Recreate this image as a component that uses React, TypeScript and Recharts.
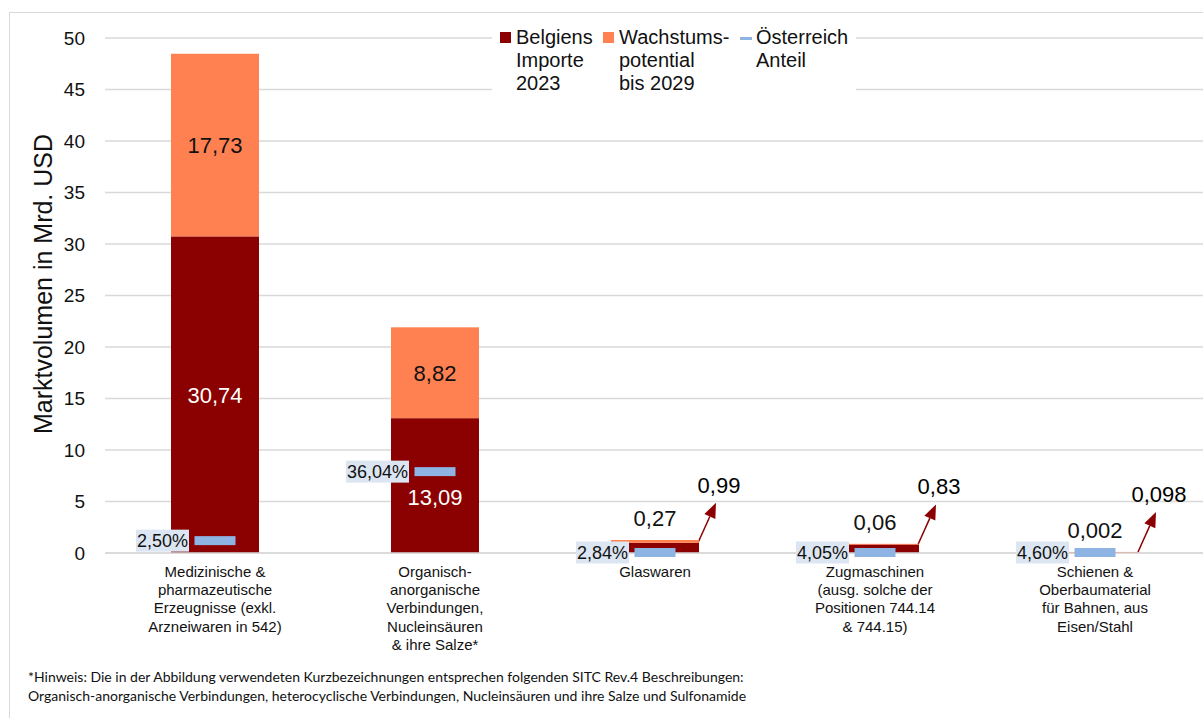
import React from "react"
import {
  ComposedChart,
  Bar,
  Line,
  XAxis,
  YAxis,
  CartesianGrid,
} from "recharts"

const categories = [
  ["Medizinische &", "pharmazeutische", "Erzeugnisse (exkl.", "Arzneiwaren in 542)"],
  ["Organisch-", "anorganische", "Verbindungen,", "Nucleinsäuren", "& ihre Salze*"],
  ["Glaswaren"],
  ["Zugmaschinen", "(ausg. solche der", "Positionen 744.14", "& 744.15)"],
  ["Schienen &", "Oberbaumaterial", "für Bahnen, aus", "Eisen/Stahl"],
]
const imports2023 = [30.74, 13.09, 0.99, 0.83, 0.098]
const growth2029 = [17.73, 8.82, 0.27, 0.06, 0.002]
const shareLevel = [1.2, 7.9, 0.05, 0.05, 0.05]
const shareLabels = ["2,50%", "36,04%", "2,84%", "4,05%", "4,60%"]
const yTicks = [0, 5, 10, 15, 20, 25, 30, 35, 40, 45, 50]

const DARK_RED = "#8B0000"
const ORANGE = "#FF8050"
const BLUE = "#8DB4E2"
const FONT = "'Liberation Sans', Arial, sans-serif"

const data = categories.map((lines, i) => ({
  name: lines.join(" "),
  lines,
  imp: imports2023[i],
  grow: growth2029[i],
  share: shareLevel[i],
  shareLabel: shareLabels[i],
}))

const fmt = (v: number) => String(v).replace(".", ",")

let ctx: CanvasRenderingContext2D | null = null
function textWidth(s: string, size: number) {
  if (!ctx) ctx = document.createElement("canvas").getContext("2d")
  if (!ctx) return s.length * size * 0.55
  ctx.font = `${size}px 'Liberation Sans', Arial, sans-serif`
  return ctx.measureText(s).width
}

function ImportShape(props: any) {
  const { x, y, width, height, payload } = props
  const v = payload.imp
  const big = v > 5
  let label = null
  if (big) {
    const pxPerUnit = height / v
    const markerY = y + height - payload.share * pxPerUnit
    let cy = y + height / 2
    // keep the value clear of the Austria marker
    if (Math.abs(markerY - cy) < 20) cy = markerY + 25
    label = (
      <text x={x + width / 2} y={cy} dy="0.36em" textAnchor="middle" fill="#fff" fontSize={22} fontFamily={FONT}>
        {fmt(v)}
      </text>
    )
  } else {
    const x1 = x + width - 1
    const y1 = y
    const x2 = x1 + 18
    const y2 = y1 - 40
    const ang = Math.atan2(y2 - y1, x2 - x1)
    const L = 15
    const W = 6
    const bx = x2 - L * Math.cos(ang)
    const by = y2 - L * Math.sin(ang)
    const px = -Math.sin(ang) * W
    const py = Math.cos(ang) * W
    label = (
      <g>
        <line x1={x1} y1={y1} x2={bx} y2={by} stroke={DARK_RED} strokeWidth={1.5} />
        <polygon points={`${x2},${y2} ${bx + px},${by + py} ${bx - px},${by - py}`} fill={DARK_RED} />
        <text x={x2 + 3} y={y2 - 10} textAnchor="middle" fill="#000" fontSize={22} fontFamily={FONT}>
          {fmt(v)}
        </text>
      </g>
    )
  }
  return (
    <g>
      <rect x={x} y={y} width={width} height={Math.max(height, 0)} fill={DARK_RED} />
      {label}
    </g>
  )
}

function GrowthShape(props: any) {
  const { x, y, width, height, payload } = props
  const v = payload.grow
  const big = v > 5
  return (
    <g>
      <rect x={x} y={y} width={width} height={Math.max(height, 0.8)} fill={ORANGE} />
      {big ? (
        <text x={x + width / 2} y={y + height / 2} dy="0.36em" textAnchor="middle" fill="#111" fontSize={22} fontFamily={FONT}>
          {fmt(v)}
        </text>
      ) : (
        <text x={x + width / 2} y={y - 14} textAnchor="middle" fill="#111" fontSize={22} fontFamily={FONT}>
          {fmt(v)}
        </text>
      )}
    </g>
  )
}

function ShareDot(props: any) {
  const { cx, cy, payload, index } = props
  if (cx == null || cy == null) return null
  const w = textWidth(payload.shareLabel, 18)
  const right = cx - 26
  return (
    <g key={`dot-${index}`}>
      <rect x={right - w - 2} y={cy - 11} width={w + 2} height={22} fill="#DCE6F2" />
      <text x={right - 1} y={cy} dy="0.36em" textAnchor="end" fill="#111" fontSize={18} fontFamily={FONT}>
        {payload.shareLabel}
      </text>
      <rect x={cx - 20.5} y={cy - 4.5} width={41} height={9} fill={BLUE} />
    </g>
  )
}

function CategoryTick(props: any) {
  const { x, y, payload, index } = props
  const lines = data[index]?.lines ?? [payload.value]
  return (
    <text x={x} y={y} textAnchor="middle" fill="#111" fontSize={15} fontFamily={FONT}>
      {lines.map((l: string, i: number) => (
        <tspan key={i} x={x} dy={i === 0 ? 16 : 18.2}>
          {l}
        </tspan>
      ))}
    </text>
  )
}

function LegendBox() {
  const text = { fontSize: 20, lineHeight: "23px", color: "#111", fontFamily: FONT }
  const sq = (c: string) => (
    <span style={{ display: "inline-block", width: 11, height: 11, background: c, marginTop: 6, marginRight: 5, flex: "none" }} />
  )
  return (
    <div style={{ position: "absolute", left: 492, top: 26, display: "flex", background: "#fff", padding: "0 6px 0 8px", width: 350, height: 73 }}>
      <div style={{ display: "flex", width: 103 }}>
        {sq(DARK_RED)}
        <div style={text}>Belgiens<br />Importe<br />2023</div>
      </div>
      <div style={{ display: "flex", width: 137 }}>
        {sq(ORANGE)}
        <div style={text}>Wachstums-<br />potential<br />bis 2029</div>
      </div>
      <div style={{ display: "flex" }}>
        <span style={{ display: "inline-block", width: 12, height: 3, background: BLUE, marginTop: 11, marginRight: 4, flex: "none" }} />
        <div style={text}>Österreich<br />Anteil</div>
      </div>
    </div>
  )
}

export default function App() {
  return (
    <div style={{ position: "relative", width: 1203, height: 718, overflow: "hidden", background: "#fff" }}>
      <style>{`body{margin:0;overflow:hidden}`}</style>
      <div
        style={{
          position: "absolute",
          left: 9,
          top: 12,
          width: 1300,
          height: 800,
          border: "1px solid #D9D9D9",
        }}
      />
      <div style={{ position: "absolute", left: 0, top: 0 }}>
        <ComposedChart
          width={1215}
          height={718}
          data={data}
          margin={{ top: 38, right: 10, left: 0, bottom: 65 }}
          barCategoryGap={0}
        >
          <CartesianGrid vertical={false} stroke="#D9D9D9" strokeWidth={1.5} />
          <XAxis
            dataKey="name"
            height={100}
            tickLine={false}
            axisLine={{ stroke: "#D9D9D9", strokeWidth: 1.5 }}
            tick={<CategoryTick />}
            interval={0}
          />
          <YAxis
            width={105}
            domain={[0, 50]}
            ticks={yTicks}
            tickLine={false}
            axisLine={false}
            tickMargin={14}
            tick={{ fill: "#111", fontSize: 19, fontFamily: FONT }}
            label={{
              content: () => (
                <text
                  transform="translate(43,284) rotate(-90)"
                  textAnchor="middle"
                  dy="0.36em"
                  fill="#111"
                  fontSize={25}
                  fontFamily={FONT}
                >
                  Marktvolumen in Mrd. USD
                </text>
              ),
            }}
          />
          <Bar dataKey="imp" stackId="a" barSize={88} isAnimationActive={false} shape={<ImportShape />} />
          <Bar dataKey="grow" stackId="a" barSize={88} isAnimationActive={false} shape={<GrowthShape />} />
          <Line
            dataKey="share"
            stroke="none"
            isAnimationActive={false}
            dot={<ShareDot />}
            activeDot={false}
            legendType="none"
          />
        </ComposedChart>
      </div>
      <LegendBox />
      <div
        style={{
          position: "absolute",
          left: 28,
          top: 667,
          fontFamily: "Lato, 'Open Sans', sans-serif",
          fontSize: 14,
          lineHeight: "19px",
          color: "#111",
        }}
      >
        *Hinweis: Die in der Abbildung verwendeten Kurzbezeichnungen entsprechen folgenden SITC Rev.4 Beschreibungen:
        <br />
        Organisch-anorganische Verbindungen, heterocyclische Verbindungen, Nucleinsäuren und ihre Salze und Sulfonamide
      </div>
    </div>
  )
}
